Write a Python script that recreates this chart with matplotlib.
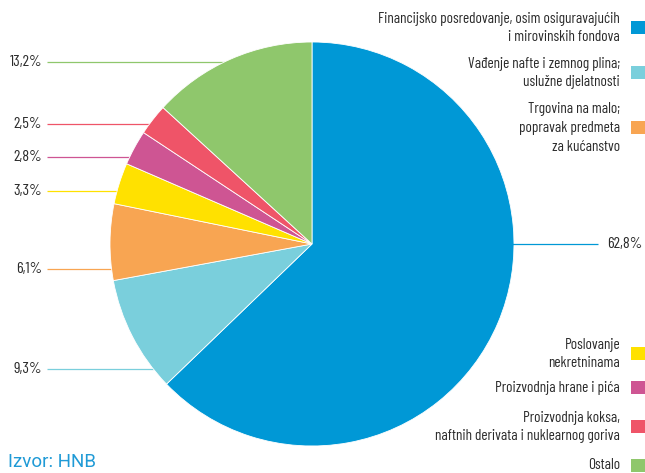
import numpy as np
import matplotlib
matplotlib.use("Agg")
import matplotlib.pyplot as plt
from matplotlib.patches import Rectangle

plt.rcParams['font.family'] = ['Barlow Condensed', 'DejaVu Sans']

# Shares by activity (%), clockwise from 12 o'clock
categories = [
    "Financijsko posredovanje, osim osiguravajućih\ni mirovinskih fondova",
    "Vađenje nafte i zemnog plina;\nuslužne djelatnosti",
    "Trgovina na malo;\npopravak predmeta\nza kućanstvo",
    "Poslovanje\nnekretninama",
    "Proizvodnja hrane i pića",
    "Proizvodnja koksa,\nnaftnih derivata i nuklearnog goriva",
    "Ostalo",
]
values = [62.8, 9.3, 6.1, 3.3, 2.8, 2.5, 13.2]
value_labels = ["62,8%", "9,3%", "6,1%", "3,3%", "2,8%", "2,5%", "13,2%"]
colors = ["#0098d6", "#7acfdc", "#f8a552", "#ffe100", "#ce5593", "#ef5468", "#8fc76c"]

W, H = 645, 473
fig = plt.figure(figsize=(W / 100, H / 100), dpi=100)
ax = fig.add_axes([0, 0, 1, 1])

cx, cy, r = 312, 244, 202  # pixel coordinates (y measured from the top)

ax.pie(values, colors=colors, startangle=90, counterclock=False,
       center=(cx, H - cy), radius=r, frame=True,
       wedgeprops=dict(edgecolor="white", linewidth=0.6))
ax.set_xlim(0, W)
ax.set_ylim(0, H)
ax.set_aspect("equal")
ax.axis("off")

text_color = "#2b2b2b"
fs = 11
fs_val = 11.5
weight = "normal"

# Value labels with horizontal leader lines (y positions in pixels from the top)
label_y = [244, 369, 269, 191, 157, 124, 62]
for i, (val_txt, col, y) in enumerate(zip(value_labels, colors, label_y)):
    dy = cy - y
    dx = np.sqrt(max(r * r - dy * dy, 0))
    if i == 0:
        x0 = cx + dx
        ax.plot([x0 - 2, 598], [H - y, H - y], color=col, lw=0.9, solid_capstyle="butt")
        ax.text(607, H - y, val_txt, ha="left", va="center", fontsize=fs_val,
                color=text_color, weight=weight)
    else:
        x1 = cx - dx
        ax.plot([47, x1 + 2], [H - y, H - y], color=col, lw=0.9,
                solid_capstyle="butt", zorder=0)
        ax.text(42, H - y, val_txt, ha="right", va="center", fontsize=fs_val,
                color=text_color, weight=weight)

# Legend on the right: text right-aligned, colour square at the edge
legend_y = [28, 73, 128, 354, 388, 427, 465]
for cat, col, y in zip(categories, colors, legend_y):
    ax.text(620, H - y, cat, ha="right", va="center", multialignment="right",
            fontsize=fs, color=text_color, linespacing=1.45, weight=weight)
    ax.add_patch(Rectangle((631, H - y - 6.5), 14, 13, facecolor=col, edgecolor="none"))

ax.text(8, H - 462, "Izvor: HNB", ha="left", va="center", fontsize=13.5,
        color="#1f9ad6", family=["Roboto", "DejaVu Sans"], weight="normal")

fig.savefig("out.png", dpi=100)
